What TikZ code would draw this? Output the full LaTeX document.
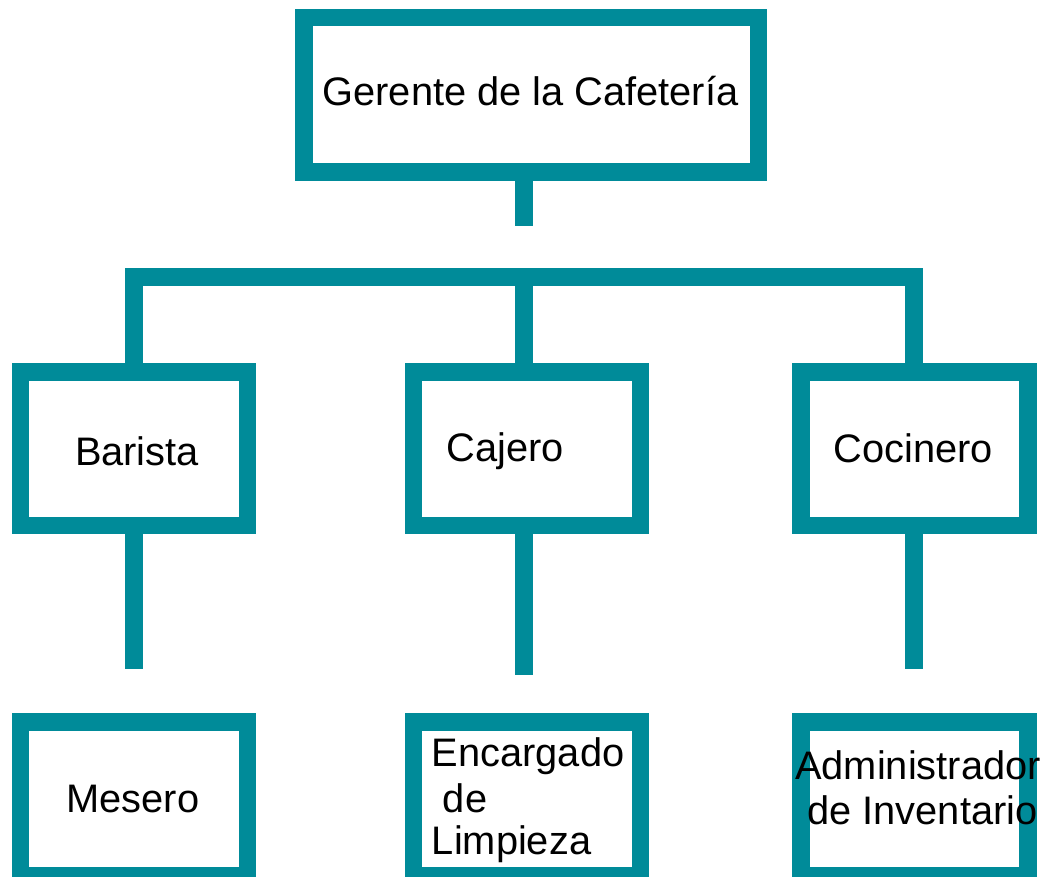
\documentclass[tikz,border=0pt]{standalone}
\usepackage{fontspec}
\setmainfont{Liberation Sans}
\definecolor{teal1}{RGB}{0,139,153}
\begin{document}
\begin{tikzpicture}[x=1pt,y=-1pt,
  box/.style={draw=teal1,line width=17.5pt,fill=white,rectangle,inner sep=0pt,
    minimum width=#1,minimum height=153.5pt},
  box/.default=227pt,
  conn/.style={draw=teal1,line width=17.5pt,line cap=butt,line join=miter},
  lbl/.style={inner sep=0pt,anchor=base,font=\fontsize{39.8}{45}\selectfont},
  lblw/.style={inner sep=0pt,anchor=base west,font=\fontsize{39.8}{45}\selectfont}]
\useasboundingbox (0,0) rectangle (1049,877);
\clip (0,0) rectangle (1049,877);
\fill[white] (0,0) rectangle (1049,877);
% boxes
\node[box=454.5pt,minimum height=154.5pt] (top) at (531,95) {};
\node[box] (barista) at (133.75,448.5) {};
\node[box] (cajero) at (527,448.5) {};
\node[box] (cocinero) at (914.25,448.5) {};
\node[box] (mesero) at (133.75,798.5) {};
\node[box] (limpieza) at (526.75,798.5) {};
\node[box] (admin) at (914.25,798.5) {};
% helper coordinates
\coordinate (s0) at (524,226);
\coordinate (bar) at (524,277);
\coordinate (e1) at (134,669);
\coordinate (e2) at (524,675);
\coordinate (e3) at (914,669);
% connectors
\draw[conn] (s0 |- top.south) -- (s0);
\draw[conn] (e1 |- barista.north) -- (e1 |- bar) -- (e3 |- bar) -- (e3 |- cocinero.north);
\draw[conn] (bar) -- (bar |- cajero.north);
\draw[conn] (e1 |- barista.south) -- (e1);
\draw[conn] (e2 |- cajero.south) -- (e2);
\draw[conn] (e3 |- cocinero.south) -- (e3);
% labels
\node[lbl] (tGer) at (530.5,106) {Gerente de la Cafetería};
\node[lbl] (tBar) at (137,465) {Barista};
\node[lbl] (tCaj) at (505.5,461.7) {Cajero};
\node[lbl] (tCoc) at (913.5,462) {Cocinero};
\node[lbl] (tMes) at (133,812.7) {Mesero};
\node[lblw] (tEn1) at (431.7,766.7) {Encargado};
\node[lblw] (tEn2) at (431.7,812.5) {\hspace*{0.278em}de};
\node[lblw] (tEn3) at (431.7,854) {Limpieza};
\node[lbl] (tAd1) at (918,779) {Administrador};
\node[lbl] (tAd2) at (922.5,824) {de Inventario};
\end{tikzpicture}
\end{document}
